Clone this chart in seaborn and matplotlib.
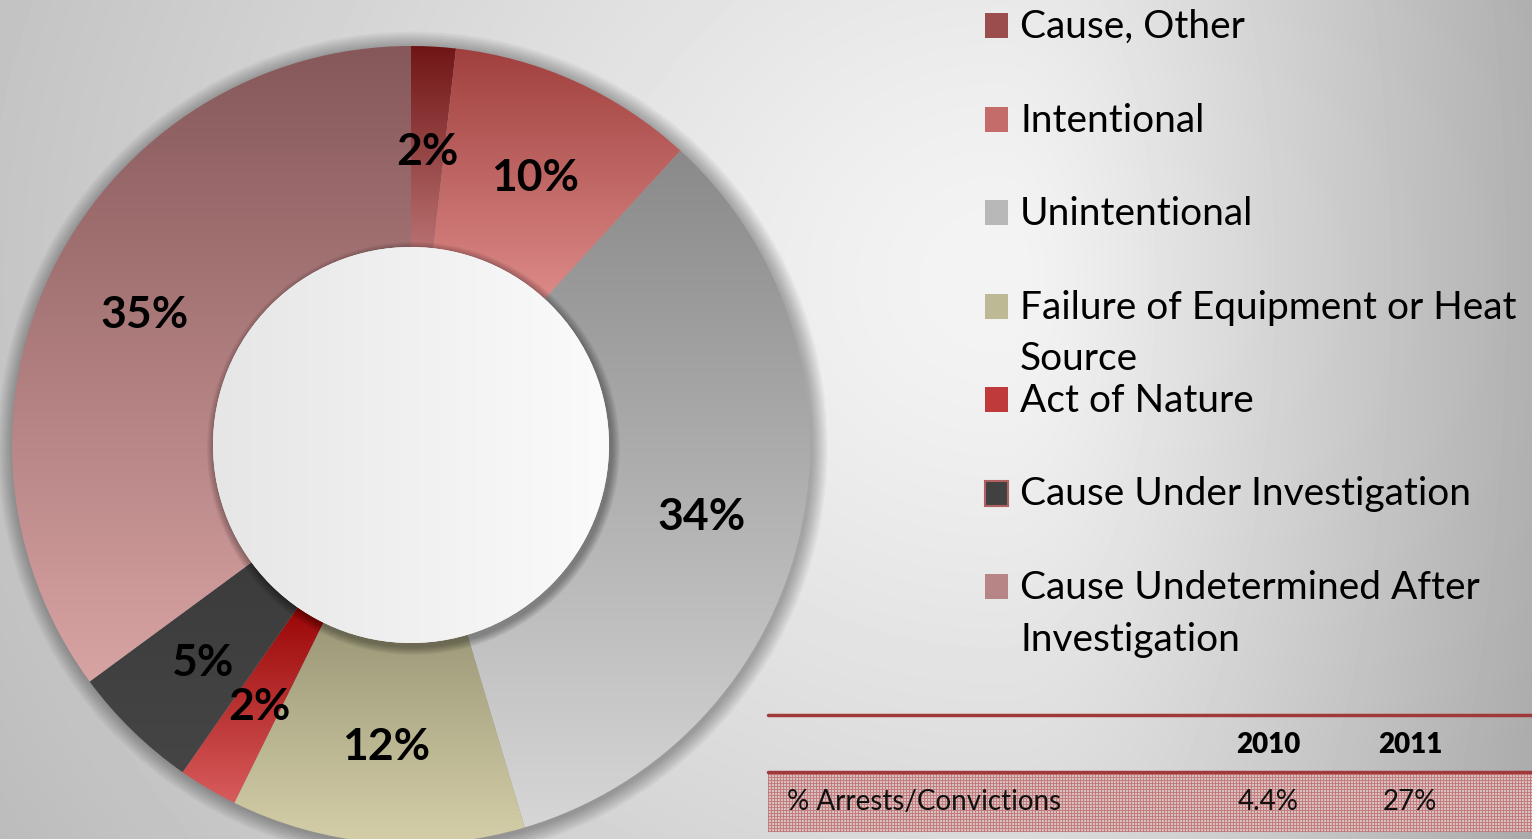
import numpy as np
import matplotlib
matplotlib.use("Agg")
import matplotlib.pyplot as plt
from matplotlib.colors import LinearSegmentedColormap, to_rgb
from matplotlib.patches import Circle, Rectangle
import seaborn as sns

sns.set_theme(style="white")
plt.rcParams["font.family"] = ["Lato", "DejaVu Sans"]
plt.rcParams["text.color"] = "black"

# =====================
# data
# =====================
causes = ["Cause, Other", "Intentional", "Unintentional",
          "Failure of Equipment or Heat\nSource", "Act of Nature",
          "Cause Under Investigation", "Cause Undetermined After\nInvestigation"]
shares = [1.8, 10.0, 33.6, 11.9, 2.4, 5.2, 35.1]

table_years = ["2010", "2011"]
table_row = "% Arrests/Convictions"
table_values = ["4.4%", "27%"]

# gradient colours per slice (top -> bottom)
top_colors = ["#701515", "#a0403e", "#8a8a8a", "#9c9878", "#9a0606", "#3c3c3c", "#86585a"]
bottom_colors = ["#b87070", "#dc8a88", "#d6d6d6", "#d4cfa8", "#d85c5c", "#454545", "#d8a3a3"]

W, H = 1532, 839
fig = plt.figure(figsize=(W / 100, H / 100), dpi=100)

# =====================
# background gradient
# =====================
bg = fig.add_axes([0, 0, 1, 1])
bg.set_axis_off()
yy, xx = np.mgrid[0:H, 0:W]
dx = xx - 1000.0
dx = np.where(dx > 0, dx * 2.6, dx)
dy = (yy - 280.0) * 1.1
val = np.clip(0.985 - 0.00021 * np.sqrt(dx ** 2 + dy ** 2 + 150 ** 2), 0, 1)
bg.imshow(val, cmap="gray", vmin=0, vmax=1, extent=(0, W, H, 0), aspect="auto", zorder=0)
bg.set_xlim(0, W)
bg.set_ylim(H, 0)

# =====================
# donut
# =====================
cx, cy, R = 411, 445, 399
hole = 198 / R
pad = 1.08
ax = fig.add_axes([(cx - pad * R) / W, (H - cy - pad * R) / H, 2 * pad * R / W, 2 * pad * R / H])

# soft shadow round the ring
for k in range(1, 11):
    ax.add_patch(Circle((0.004, -0.004), 1 + 0.004 * k, color="black", alpha=0.03, lw=0, zorder=0.5))

wedges, _, autotexts = ax.pie(
    shares, startangle=90, counterclock=False, radius=1,
    autopct="%.0f%%", pctdistance=0.748,
    wedgeprops=dict(width=1 - hole, edgecolor="none"),
    textprops=dict(fontsize=32, fontweight="bold", color="black"),
)

grad = np.linspace(0, 1, 256)[:, None]
for w, c0, c1 in zip(wedges, top_colors, bottom_colors):
    bb = w.get_path().get_extents()
    cmap = LinearSegmentedColormap.from_list("g", [c0, c1])
    im = ax.imshow(grad, cmap=cmap, extent=(bb.x0, bb.x1, bb.y0, bb.y1),
                   origin="upper", aspect="auto", zorder=1.1)
    im.set_clip_path(w)
    w.set_facecolor("none")

# shadow of the raised centre onto the ring
for k in range(1, 8):
    ax.add_patch(Circle((0.006, -0.009), hole + 0.003 * k, color="black", alpha=0.05, lw=0, zorder=2))

hole_disc = Circle((0, 0), hole, facecolor="#f0f0f0", lw=0, zorder=2.5)
ax.add_patch(hole_disc)
hx = np.linspace(0, 1, 256)[None, :]
him = ax.imshow(hx, cmap=LinearSegmentedColormap.from_list("h", ["#e6e6e6", "#fbfbfb"]),
                extent=(-hole, hole, -hole, hole), aspect="auto", zorder=2.6)
him.set_clip_path(hole_disc)

for t in autotexts:
    t.set_zorder(10)
    x, y = t.get_position()
    t.set_position((x, y - 0.012))

ax.set_xlim(-pad, pad)
ax.set_ylim(-pad, pad)
ax.set_axis_off()

# =====================
# legend (pixel coords on background axes)
# =====================
for i, (name, c0, c1) in enumerate(zip(causes, top_colors, bottom_colors)):
    base = 38 + i * 93.5
    mid = tuple((np.array(to_rgb(c0)) * 0.4 + np.array(to_rgb(c1)) * 0.6))
    bg.add_patch(Rectangle((985, base - 25), 23, 25, facecolor=mid,
                           edgecolor="#b06060" if i == 5 else "none", lw=1.5, zorder=3))
    for j, line in enumerate(name.split("\n")):
        bg.text(1020, base + j * 52, line, fontsize=28, va="baseline", ha="left",
                color="black", zorder=3)

# =====================
# small table
# =====================
bg.plot([768, W], [715, 715], color="#a0393a", lw=2.5, zorder=3)
bg.plot([768, W], [772, 772], color="#a0393a", lw=2.5, zorder=3)

ph, pw = 58, W - 768
pr, pc = np.mgrid[0:ph, 0:pw]
pattern = np.where((pr % 3 == 0) | (pc % 3 == 0), 0, 1)
band_cmap = LinearSegmentedColormap.from_list("b", ["#c47c7c", "#d6c2c2"])
bg.imshow(pattern, cmap=band_cmap, extent=(768, W, 774 + ph, 774), aspect="auto",
          interpolation="nearest", zorder=2)

col_x = [1268, 1410]
for x, yr, v in zip(col_x, table_years, table_values):
    bg.text(x, 745, yr, fontsize=20, fontweight="heavy", ha="center", va="center",
            color="black", zorder=4)
    bg.text(x, 802, v, fontsize=20, ha="center", va="center", color="#111111", zorder=4)
bg.text(787, 802, table_row, fontsize=20, ha="left", va="center", color="#111111", zorder=4)

fig.savefig("out.png", dpi=100)
